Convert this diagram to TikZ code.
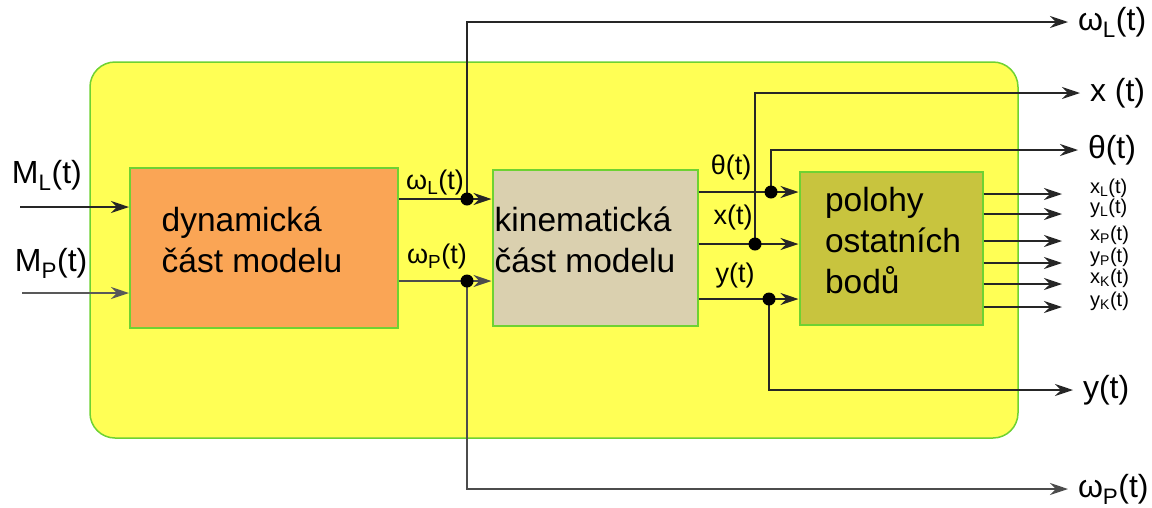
\documentclass[tikz,border=0pt]{standalone}
\usepackage{fontspec}
\setmainfont{Liberation Sans}
\usetikzlibrary{arrows.meta,positioning}
\definecolor{panelyellow}{RGB}{255,255,85}
\definecolor{edgegreen}{RGB}{110,210,50}
\definecolor{dynorange}{RGB}{250,165,85}
\definecolor{kinbeige}{RGB}{218,208,175}
\definecolor{pololive}{RGB}{200,196,62}
\tikzset{
  panel/.style={draw=edgegreen, line width=1.5pt, fill=panelyellow,
    rounded corners=25pt},
  blockbox/.style={draw=edgegreen, line width=2pt},
  blocktext/.style={align=left, inner sep=0pt,
    font=\fontsize{33.5}{41}\selectfont},
  sig/.style={-{Stealth[length=18pt, width=12pt, inset=6pt]},
    line width=1.4pt, black!85},
  dot/.style={fill=black},
  inlabel/.style={font=\fontsize{27}{30}\selectfont, inner sep=0pt},
  outlabel/.style={font=\fontsize{32}{36}\selectfont, inner sep=0pt, outer sep=10pt},
  smalllabel/.style={font=\fontsize{20}{22}\selectfont, inner sep=0pt},
}
\begin{document}
\begin{tikzpicture}[x=1pt, y=-1pt]
  \useasboundingbox (0,0) rectangle (1152,507);

  % Background panel and blocks
  \node[panel, minimum width=928pt, minimum height=376pt] (panel) at (554,250) {};
  \node[blockbox, fill=dynorange, minimum width=268pt, minimum height=160pt] (dyn)
    at (264,248) {};
  \node[blockbox, fill=kinbeige, minimum width=205pt, minimum height=156pt] (kin)
    at (595,248) {};
  \node[blockbox, fill=pololive, minimum width=183pt, minimum height=153pt] (pol)
    at (891,248) {};
  \node[blocktext] (dyntxt) at (252,240) {dynamická\\část modelu};
  \node[blocktext] (kintxt) at (585,240) {kinematická\\část modelu};
  \node[blocktext] (poltxt) at (893,241) {polohy\\ostatních\\bodů};

  % Inputs
  \coordinate (inl) at (20,207);
  \coordinate (inp) at (22,293);
  \node[outlabel, outer sep=0pt, anchor=west] (ml) at (12,175) {M\textsubscript{L}(t)};
  \node[outlabel, outer sep=0pt, anchor=west] (mp) at (15,263) {M\textsubscript{P}(t)};
  \draw[sig] (inl) -- (inl -| dyn.west);
  \draw[sig, black!65, line width=2pt] (inp) -- (inp -| dyn.west);

  % Junctions
  \coordinate (jwl) at (467,199);
  \coordinate (jwp) at (467,281);
  \coordinate (jth) at (771,192);
  \coordinate (jx) at (755,244);
  \coordinate (jy) at (769,299);

  % Output labels
  \node[outlabel, anchor=west] (owl) at (1068,22) {ω\textsubscript{L}(t)};
  \node[outlabel, anchor=west] (ox) at (1080,93) {x (t)};
  \node[outlabel, anchor=west] (oth) at (1078,150) {θ(t)};
  \node[outlabel, anchor=west] (oy) at (1073,390) {y(t)};
  \node[outlabel, anchor=west] (owp) at (1068,489) {ω\textsubscript{P}(t)};

  % Dynamic -> kinematic
  \draw[sig] (jwl -| dyn.east) -- (jwl -| kin.west);
  \draw[sig, line width=2.2pt, black!70] (jwp -| dyn.east) -- (jwp -| kin.west);
  \node[inlabel] (lwl) at (435,183) {ω\textsubscript{L}(t)};
  \node[inlabel] (lwp) at (437,257) {ω\textsubscript{P}(t)};
  \draw[sig] (jwl) |- (owl.west);
  \draw[sig, black!70, line width=2pt] (jwp) |- (owp.west);

  % Kinematic -> positions
  \draw[sig] (jth -| kin.east) -- (jth -| pol.west);
  \draw[sig] (jx -| kin.east) -- (jx -| pol.west);
  \draw[sig] (jy -| kin.east) -- (jy -| pol.west);
  \node[inlabel] (lth) at (731,168) {θ(t)};
  \node[inlabel] (lx) at (733,218) {x(t)};
  \node[inlabel] (ly) at (735,276) {y(t)};
  \draw[sig] (jth) |- (oth.west);
  \draw[sig] (jx) |- (ox.west);
  \draw[sig] (jy) |- (oy.west);

  \foreach \j in {jwl,jwp,jth,jx,jy}
    \fill[dot] (\j) circle[radius=6.5pt];

  % Positions of other points
  \foreach \n/\yy/\txt in {xl/194/x\textsubscript{L}(t), yl/214/y\textsubscript{L}(t),
      xp/241/x\textsubscript{P}(t), yp/263/y\textsubscript{P}(t),
      xk/284/x\textsubscript{K}(t), yk/307/y\textsubscript{K}(t)} {
    \coordinate (t\n) at (1062,\yy);
    \node[smalllabel, anchor=west] (l\n) at (1090,\yy-6) {\txt};
    \draw[sig] (pol.east |- t\n) -- (t\n);
  }
\end{tikzpicture}
\end{document}
